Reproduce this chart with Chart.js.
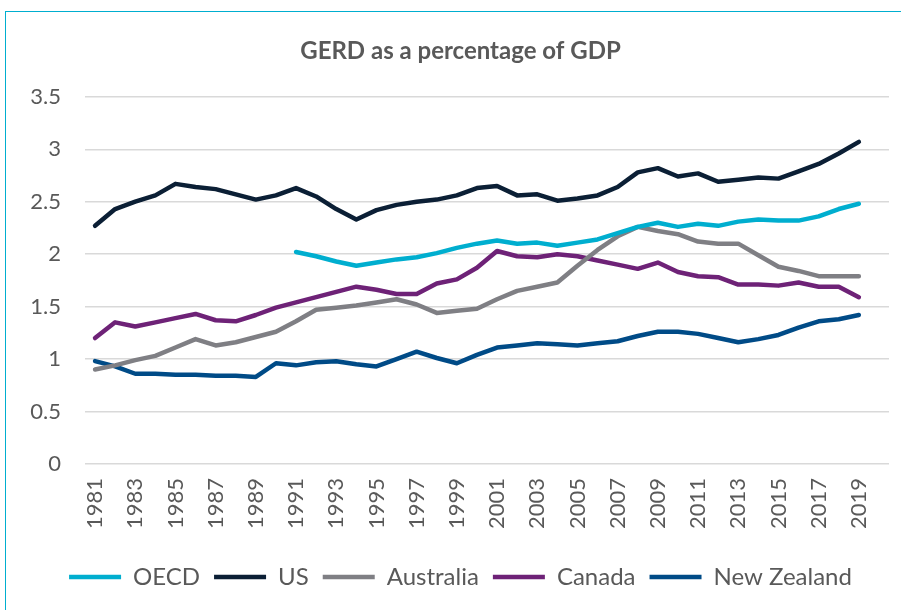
<!DOCTYPE html>
<html>
<head>
<meta charset="utf-8">
<script src="https://cdn.jsdelivr.net/npm/chart.js@4.4.1/dist/chart.umd.min.js"></script>
<style>
  html, body { margin: 0; padding: 0; background: #fff; overflow: hidden; }
  .frame {
    position: absolute; left: 5px; top: 11px; width: 920px; height: 640px;
    border: 1.5px solid #00AECF; box-sizing: border-box;
  }
  .wrap { position: absolute; left: 0; top: 0; width: 901px; height: 610px; }
</style>
</head>
<body>
<div class="frame"></div>
<div class="wrap"><canvas id="gerdChart"></canvas></div>
<script>
// --- Data (GERD as % of GDP) ---
const years = [];
for (let y = 1981; y <= 2020; y++) years.push(String(y));

const oecd = [null, null, null, null, null, null, null, null, null, null,
  2.02, 1.98, 1.93, 1.89, 1.92, 1.95, 1.97, 2.01, 2.06, 2.10,
  2.13, 2.10, 2.11, 2.08, 2.11, 2.14, 2.20, 2.26, 2.30, 2.26,
  2.29, 2.27, 2.31, 2.33, 2.32, 2.32, 2.36, 2.43, 2.48, null];
const us = [2.27, 2.43, 2.50, 2.56, 2.67, 2.64, 2.62, 2.57, 2.52, 2.56,
  2.63, 2.55, 2.43, 2.33, 2.42, 2.47, 2.50, 2.52, 2.56, 2.63,
  2.65, 2.56, 2.57, 2.51, 2.53, 2.56, 2.64, 2.78, 2.82, 2.74,
  2.77, 2.69, 2.71, 2.73, 2.72, 2.79, 2.86, 2.96, 3.07, null];
const australia = [0.90, 0.94, 0.99, 1.03, 1.11, 1.19, 1.13, 1.16, 1.21, 1.26,
  1.36, 1.47, 1.49, 1.51, 1.54, 1.57, 1.52, 1.44, 1.46, 1.48,
  1.57, 1.65, 1.69, 1.73, 1.89, 2.04, 2.17, 2.26, 2.22, 2.19,
  2.12, 2.10, 2.10, 1.99, 1.88, 1.84, 1.79, 1.79, 1.79, null];
const canada = [1.20, 1.35, 1.31, 1.35, 1.39, 1.43, 1.37, 1.36, 1.42, 1.49,
  1.54, 1.59, 1.64, 1.69, 1.66, 1.62, 1.62, 1.72, 1.76, 1.87,
  2.03, 1.98, 1.97, 2.00, 1.98, 1.94, 1.90, 1.86, 1.92, 1.83,
  1.79, 1.78, 1.71, 1.71, 1.70, 1.73, 1.69, 1.69, 1.59, null];
const newZealand = [0.98, 0.93, 0.86, 0.86, 0.85, 0.85, 0.84, 0.84, 0.83, 0.96,
  0.94, 0.97, 0.98, 0.95, 0.93, 1.00, 1.07, 1.01, 0.96, 1.04,
  1.11, 1.13, 1.15, 1.14, 1.13, 1.15, 1.17, 1.22, 1.26, 1.26,
  1.24, 1.20, 1.16, 1.19, 1.23, 1.30, 1.36, 1.38, 1.42, null];

const FONT = "Lato, 'Open Sans', sans-serif";
const TEXT = '#595959';

function series(label, data, color) {
  return {
    label: label,
    data: data,
    borderColor: color,
    backgroundColor: color,
    borderWidth: 4.5,
    borderCapStyle: 'round',
    borderJoinStyle: 'round',
    pointRadius: 0,
    pointStyle: 'line',
    tension: 0,
    fill: false,
    spanGaps: false
  };
}

document.addEventListener('DOMContentLoaded', () => {
  const ctx = document.getElementById('gerdChart').getContext('2d');
  new Chart(ctx, {
    type: 'line',
    data: {
      labels: years,
      datasets: [
        series('OECD', oecd, '#00AECF'),
        series('US', us, '#0B1F35'),
        series('Australia', australia, '#7F7F84'),
        series('Canada', canada, '#6E2277'),
        series('New Zealand', newZealand, '#004B87')
      ]
    },
    options: {
      responsive: true,
      maintainAspectRatio: false,
      animation: false,
      layout: { padding: { left: 25, right: 5, top: 24, bottom: 11 } },
      plugins: {
        title: {
          display: true,
          text: 'GERD as a percentage of GDP',
          color: TEXT,
          font: { family: FONT, size: 24, weight: 'bold' },
          padding: { top: 13, bottom: 31 }
        },
        legend: {
          position: 'bottom',
          labels: {
            color: TEXT,
            font: { family: FONT, size: 24 },
            usePointStyle: true,
            pointStyleWidth: 52,
            boxHeight: 10,
            padding: 14
          }
        },
        tooltip: { enabled: false }
      },
      scales: {
        x: {
          offset: true,
          grid: { display: false },
          border: { display: false },
          ticks: {
            color: TEXT,
            font: { family: FONT, size: 22 },
            autoSkip: false,
            minRotation: 90,
            maxRotation: 90,
            padding: 6,
            callback: (val, i) => (i % 2 === 0 ? years[i] : '')
          },
          afterFit: (scale) => {
            scale.height += 16;
            scale.paddingLeft = 0;
            scale.paddingRight = 12;
          }
        },
        y: {
          min: 0,
          max: 3.5,
          grid: { color: '#D9D9D9', lineWidth: 1.5, drawTicks: false },
          border: { display: false },
          ticks: {
            stepSize: 0.5,
            color: TEXT,
            font: { family: FONT, size: 22 },
            padding: 24,
            callback: (v) => String(Number(v))
          },
          afterFit: (scale) => { scale.width = 60; }
        }
      }
    }
  });
});
</script>
</body>
</html>
